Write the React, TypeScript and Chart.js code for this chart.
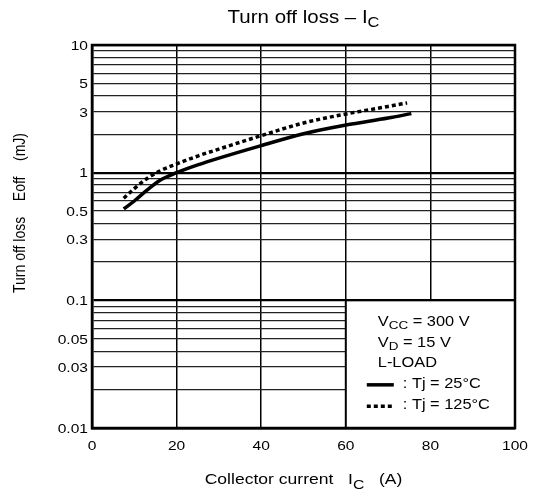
import React, { useEffect, useRef } from "react";
import { Chart, registerables } from "chart.js";

Chart.register(...registerables);

// ---- data ----
const currentTj25 = [7.5, 10, 13, 16, 20, 25, 30, 40, 50, 60, 70, 75.5];
const lossTj25 = [0.52, 0.6, 0.73, 0.87, 1.0, 1.15, 1.3, 1.63, 2.02, 2.36, 2.68, 2.9];
const currentTj125 = [7.5, 10, 13, 16, 20, 25, 30, 40, 50, 60, 70, 74.5];
const lossTj125 = [0.63, 0.75, 0.9, 1.03, 1.17, 1.35, 1.53, 1.95, 2.45, 2.88, 3.3, 3.52];

const xTickValues = [0, 20, 40, 60, 80, 100];
const yGridValues = [
  0.01, 0.02, 0.03, 0.04, 0.05, 0.06, 0.07, 0.08, 0.09,
  0.1, 0.2, 0.3, 0.4, 0.5, 0.6, 0.7, 0.8, 0.9,
  1, 2, 3, 4, 5, 6, 7, 8, 9, 10,
];
const yLabelValues = [0.01, 0.03, 0.05, 0.1, 0.3, 0.5, 1, 3, 5, 10];
const yLabelTexts = ["0.01", "0.03", "0.05", "0.1", "0.3", "0.5", "1", "3", "5", "10"];

const titleText = "Turn off loss \u2013 I";
const titleSub = "C";
const xTitleMain = "Collector current   I";
const xTitleSub = "C";
const xTitleUnit = "   (A)";
const yTitleText = "Turn off loss    Eoff    (mJ)";
const legendLines = ["= 300 V", "= 15 V", "L-LOAD"];
const seriesLabels = [": Tj = 25\u00b0C", ": Tj = 125\u00b0C"];

const FONT = '"Liberation Sans", Arial, Helvetica, sans-serif';
const SX = 1.17;

type Run = { t: string; size: number; dy?: number };

function runsWidth(ctx: CanvasRenderingContext2D, runs: Run[]) {
  let w = 0;
  for (const r of runs) {
    ctx.font = `${r.size}px ${FONT}`;
    w += ctx.measureText(r.t).width * SX;
  }
  return w;
}

function drawRuns(
  ctx: CanvasRenderingContext2D,
  runs: Run[],
  x: number,
  y: number,
  align: "left" | "center" | "right" = "left"
) {
  const w = runsWidth(ctx, runs);
  let cx = align === "left" ? x : align === "center" ? x - w / 2 : x - w;
  for (const r of runs) {
    ctx.save();
    ctx.font = `${r.size}px ${FONT}`;
    const rw = ctx.measureText(r.t).width;
    ctx.translate(cx, y + (r.dy || 0));
    ctx.scale(SX, 1);
    ctx.textAlign = "left";
    ctx.textBaseline = "alphabetic";
    ctx.fillStyle = "#000";
    ctx.fillText(r.t, 0, 0);
    ctx.restore();
    cx += rw * SX;
  }
}

const overlayPlugin = {
  id: "overlay",
  afterDraw(chart: any) {
    const ctx: CanvasRenderingContext2D = chart.ctx;
    const { left, right, top, bottom } = chart.chartArea;
    const xs = chart.scales.x;
    const ys = chart.scales.y;

    // legend box (white, covering grid)
    const bx0 = xs.getPixelForValue(60);
    const bx1 = xs.getPixelForValue(100);
    const by0 = ys.getPixelForValue(0.1);
    const by1 = ys.getPixelForValue(0.01);
    ctx.save();
    ctx.fillStyle = "#fff";
    ctx.fillRect(bx0, by0, bx1 - bx0, by1 - by0);
    ctx.strokeStyle = "#000";
    ctx.lineWidth = 2;
    ctx.strokeRect(bx0, by0, bx1 - bx0, by1 - by0);
    ctx.restore();

    // plot border
    ctx.save();
    ctx.strokeStyle = "#000";
    ctx.lineWidth = 2.5;
    ctx.strokeRect(left, top, right - left, bottom - top);
    ctx.restore();

    // y tick labels
    yLabelValues.forEach((v, i) => {
      const py = ys.getPixelForValue(v);
      drawRuns(ctx, [{ t: yLabelTexts[i], size: 13.3 }], left - 4, py + 4.8, "right");
    });
    // x tick labels
    xTickValues.forEach((v) => {
      const px = xs.getPixelForValue(v);
      drawRuns(ctx, [{ t: String(v), size: 13.3 }], px, bottom + 22, "center");
    });

    // title
    drawRuns(
      ctx,
      [
        { t: titleText, size: 17.5 },
        { t: titleSub, size: 14, dy: 4 },
      ],
      (left + right) / 2,
      23,
      "center"
    );

    // x title
    drawRuns(
      ctx,
      [
        { t: xTitleMain, size: 15 },
        { t: xTitleSub, size: 13.5, dy: 5 },
        { t: xTitleUnit, size: 15 },
      ],
      (left + right) / 2,
      484,
      "center"
    );

    // y title (rotated)
    ctx.save();
    ctx.translate(25, 213);
    ctx.rotate(-Math.PI / 2);
    ctx.scale(1, SX);
    ctx.font = `14px ${FONT}`;
    ctx.textAlign = "center";
    ctx.textBaseline = "alphabetic";
    ctx.fillStyle = "#000";
    ctx.fillText(yTitleText, 0, 0);
    ctx.restore();

    // legend text
    const lx = bx0 + 32;
    drawRuns(ctx, [{ t: "V", size: 14 }, { t: "CC", size: 11.5, dy: 2.5 }, { t: " " + legendLines[0], size: 14 }], lx, by0 + 26);
    drawRuns(ctx, [{ t: "V", size: 14 }, { t: "D", size: 11.5, dy: 2.5 }, { t: " " + legendLines[1], size: 14 }], lx, by0 + 47);
    drawRuns(ctx, [{ t: legendLines[2], size: 14 }], lx, by0 + 67);

    const sx0 = bx0 + 21;
    const sx1 = bx0 + 48;
    const r1 = by0 + 84.5;
    const r2 = by0 + 106;
    ctx.save();
    ctx.strokeStyle = "#000";
    ctx.lineWidth = 3.5;
    ctx.lineCap = "butt";
    ctx.beginPath();
    ctx.moveTo(sx0, r1);
    ctx.lineTo(sx1, r1);
    ctx.stroke();
    ctx.setLineDash([4, 3]);
    ctx.beginPath();
    ctx.moveTo(sx0, r2);
    ctx.lineTo(sx1, r2);
    ctx.stroke();
    ctx.restore();
    drawRuns(ctx, [{ t: seriesLabels[0], size: 14 }], bx0 + 57, by0 + 88);
    drawRuns(ctx, [{ t: seriesLabels[1], size: 14 }], bx0 + 57, by0 + 109);
  },
};

export default function App() {
  const canvasRef = useRef<HTMLCanvasElement | null>(null);

  useEffect(() => {
    if (!canvasRef.current) return;
    const chart = new Chart(canvasRef.current, {
      type: "line",
      data: {
        datasets: [
          {
            label: "Tj = 25°C",
            data: currentTj25.map((x, i) => ({ x, y: lossTj25[i] })),
            borderColor: "#000",
            borderWidth: 3.5,
            pointRadius: 0,
            cubicInterpolationMode: "monotone",
            fill: false,
          },
          {
            label: "Tj = 125°C",
            data: currentTj125.map((x, i) => ({ x, y: lossTj125[i] })),
            borderColor: "#000",
            borderWidth: 3.5,
            borderDash: [4, 3],
            pointRadius: 0,
            cubicInterpolationMode: "monotone",
            fill: false,
          },
        ],
      },
      options: {
        animation: false,
        responsive: true,
        maintainAspectRatio: false,
        layout: { padding: { top: 45, right: 22, left: 0, bottom: 0 } },
        plugins: { legend: { display: false }, tooltip: { enabled: false }, title: { display: false } },
        scales: {
          x: {
            type: "linear",
            min: 0,
            max: 100,
            afterBuildTicks: (s: any) => {
              s.ticks = xTickValues.map((v) => ({ value: v }));
            },
            afterFit: (s: any) => {
              s.height = 73;
            },
            ticks: { display: false },
            grid: { color: "#000", lineWidth: 1.5, drawTicks: false },
            border: { display: true, color: "#000", width: 2.5 },
          },
          y: {
            type: "logarithmic",
            min: 0.01,
            max: 10,
            afterBuildTicks: (s: any) => {
              s.ticks = yGridValues.map((v) => ({ value: v }));
            },
            afterFit: (s: any) => {
              s.width = 92;
            },
            ticks: { display: false },
            grid: {
              drawTicks: false,
              color: (c: any) => {
                const v = c.tick ? c.tick.value : 1;
                const l = Math.log10(v);
                return Math.abs(l - Math.round(l)) < 1e-6 ? "#000" : "#222";
              },
              lineWidth: (c: any) => {
                const v = c.tick ? c.tick.value : 1;
                const l = Math.log10(v);
                return Math.abs(l - Math.round(l)) < 1e-6 ? 2.2 : 1.2;
              },
            },
            border: { display: true, color: "#000", width: 2.5 },
          },
        },
      },
      plugins: [overlayPlugin],
    } as any);
    return () => chart.destroy();
  }, []);

  return (
    <div style={{ position: "fixed", left: 0, top: 0, width: 537, height: 501, background: "#fff" }}>
      <canvas ref={canvasRef} />
    </div>
  );
}
